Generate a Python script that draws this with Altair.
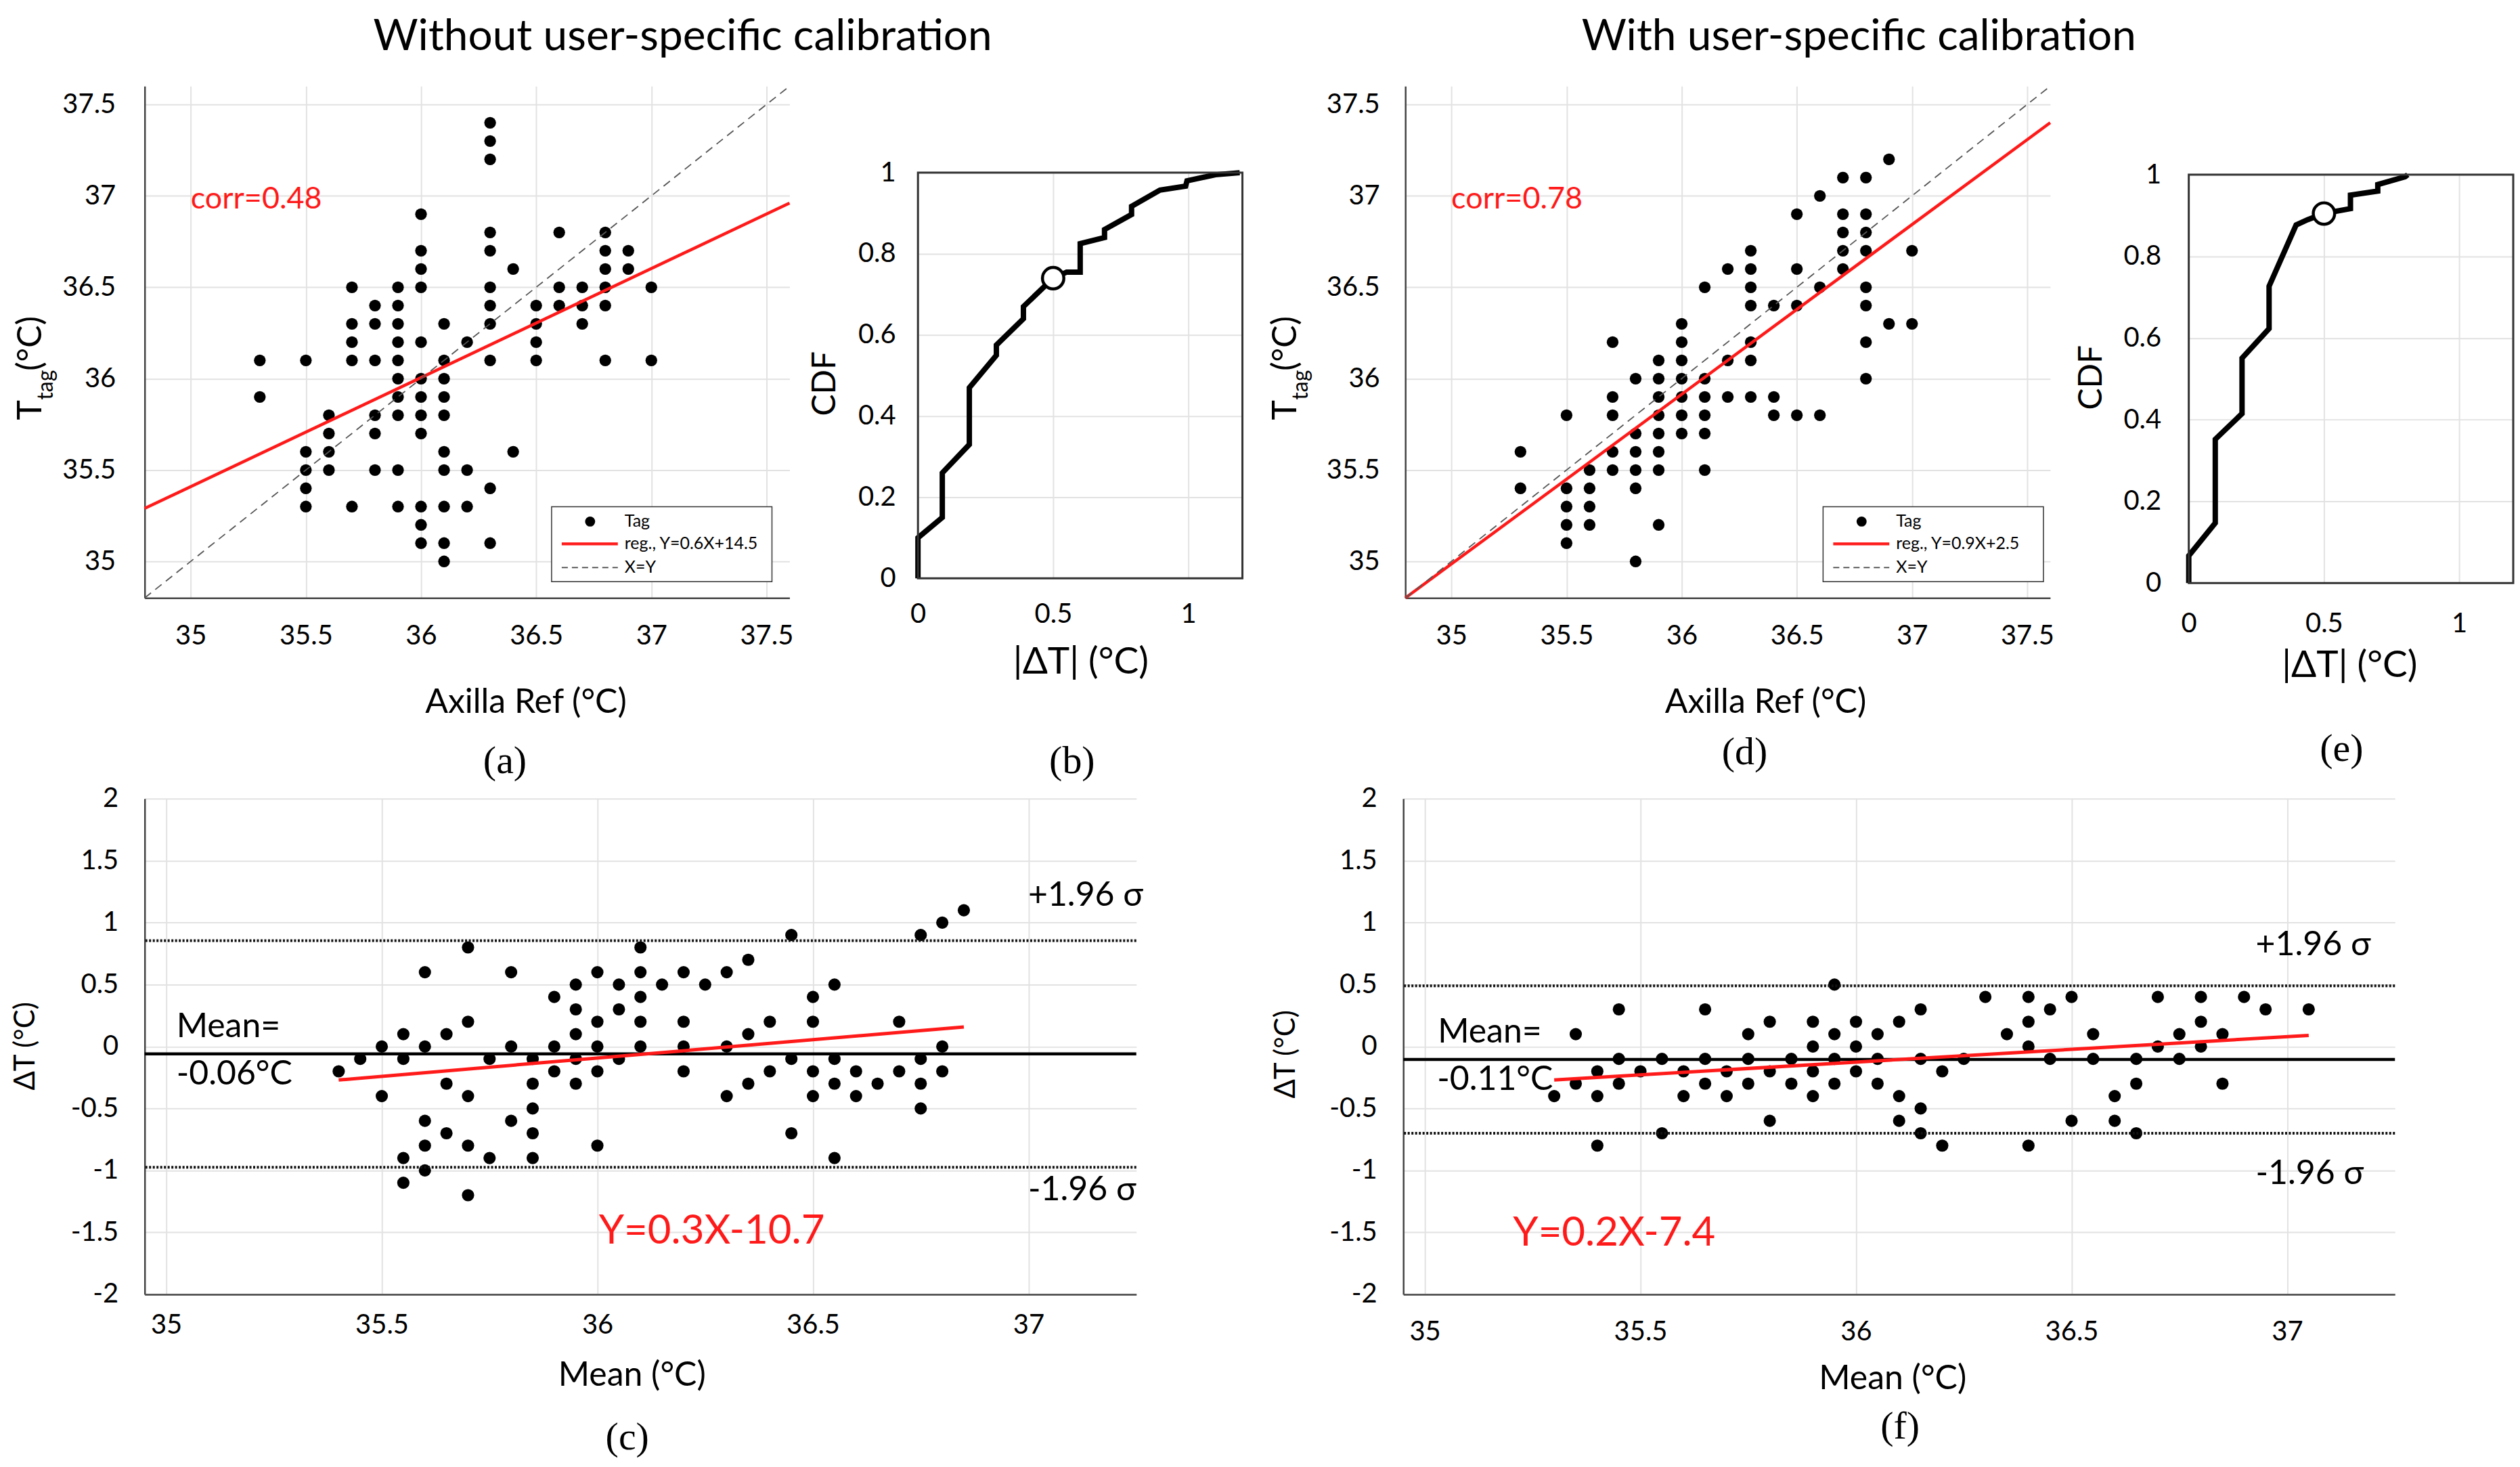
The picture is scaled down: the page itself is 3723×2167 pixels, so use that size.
import altair as alt
import pandas as pd

SANS = "Lato"
SERIF = "Liberation Serif"
TICK_FS = 40
GRID = "#e2e2e2"
AXC = "#444444"
RED = "#ff1a1a"

# ---------------- data ----------------
# (a) without calibration: axilla reference value (column) -> tag readings
A_REF = [35.3, 35.5, 35.6, 35.7, 35.8, 35.9, 36.0, 36.1, 36.2, 36.3, 36.4, 36.5, 36.6, 36.7, 36.8, 36.9, 37.0]
A_TAG = [
    [36.1, 35.9],
    [36.1, 35.6, 35.5, 35.4, 35.3],
    [35.8, 35.7, 35.6, 35.5],
    [36.5, 36.3, 36.2, 36.1, 35.3],
    [36.4, 36.3, 36.1, 35.8, 35.7, 35.5],
    [36.5, 36.4, 36.3, 36.2, 36.1, 36.0, 35.9, 35.8, 35.5, 35.3],
    [36.9, 36.7, 36.6, 36.5, 36.2, 36.0, 35.9, 35.8, 35.7, 35.3, 35.2, 35.1],
    [36.3, 36.1, 36.0, 35.9, 35.8, 35.6, 35.5, 35.3, 35.1, 35.0],
    [36.2, 35.5, 35.3],
    [37.4, 37.3, 37.2, 36.8, 36.7, 36.5, 36.4, 36.3, 36.1, 35.4, 35.1],
    [36.6, 35.6],
    [36.4, 36.3, 36.2, 36.1],
    [36.8, 36.5, 36.4],
    [36.5, 36.4, 36.3],
    [36.8, 36.7, 36.6, 36.5, 36.4, 36.1],
    [36.7, 36.6],
    [36.5, 36.1],
]
A_REG_X = [34.8, 37.6]
A_REG_Y = [35.29, 36.96]

# (d) with calibration
D_REF = [35.3, 35.5, 35.6, 35.7, 35.8, 35.9, 36.0, 36.1, 36.2, 36.3, 36.4, 36.5, 36.6, 36.7, 36.8, 36.9, 37.0]
D_TAG = [
    [35.6, 35.4],
    [35.8, 35.4, 35.3, 35.2, 35.1],
    [35.5, 35.4, 35.3, 35.2],
    [36.2, 35.9, 35.8, 35.6, 35.5],
    [36.0, 35.7, 35.6, 35.5, 35.4, 35.0],
    [36.1, 36.0, 35.9, 35.8, 35.7, 35.6, 35.5, 35.2],
    [36.3, 36.2, 36.1, 36.0, 35.9, 35.8, 35.7],
    [36.5, 36.0, 35.9, 35.8, 35.7, 35.5],
    [36.6, 36.1, 35.9],
    [36.7, 36.6, 36.5, 36.4, 36.2, 36.1, 35.9],
    [36.4, 35.9, 35.8],
    [36.9, 36.6, 36.4, 35.8],
    [37.0, 36.5, 35.8],
    [37.1, 36.9, 36.8, 36.7, 36.6],
    [37.1, 36.9, 36.8, 36.7, 36.5, 36.4, 36.2, 36.0],
    [37.2, 36.3],
    [36.7, 36.3],
]
D_REG_X = [34.8, 37.6]
D_REG_Y = [34.8, 37.40]

IDENT = [34.8, 37.6]

# (b), (e) CDF of |dT|
B_DT = [0, 0, 0.09, 0.09, 0.19, 0.19, 0.29, 0.29, 0.39, 0.39, 0.50, 0.55, 0.60, 0.60,
        0.69, 0.69, 0.79, 0.79, 0.895, 0.99, 0.995, 1.10, 1.19]
B_CDF = [0, 0.10, 0.15, 0.26, 0.33, 0.47, 0.55, 0.575, 0.64, 0.67, 0.74, 0.755, 0.755, 0.825,
         0.84, 0.86, 0.897, 0.917, 0.957, 0.967, 0.98, 0.995, 1.0]
B_MARK = [0.5, 0.74]

E_DT = [0, 0, 0.098, 0.098, 0.197, 0.197, 0.297, 0.297, 0.397, 0.44, 0.50, 0.598, 0.598,
        0.699, 0.699, 0.80, 0.81]
E_CDF = [0, 0.067, 0.147, 0.352, 0.415, 0.551, 0.623, 0.727, 0.877, 0.89, 0.905, 0.917, 0.95,
         0.96, 0.976, 0.995, 1.0]
E_MARK = [0.5, 0.905]

# (c), (f) Bland-Altman: mean value (column) -> differences
C_MEAN = [35.40, 35.45, 35.50, 35.55, 35.60, 35.65, 35.70, 35.75, 35.80, 35.85, 35.90, 35.95,
          36.00, 36.05, 36.10, 36.15, 36.20, 36.25, 36.30, 36.35, 36.40, 36.45, 36.50, 36.55,
          36.60, 36.65, 36.70, 36.75, 36.80, 36.85]
C_DIFF = [
    [-0.2], [-0.1], [0, -0.4], [0.1, -0.1, -0.9, -1.1], [0.6, 0, -0.6, -0.8, -1.0],
    [0.1, -0.3, -0.7], [0.8, 0.2, -0.4, -0.8, -1.2], [-0.1, -0.9], [0.6, 0, -0.6],
    [-0.1, -0.3, -0.5, -0.7, -0.9], [0.4, 0, -0.2], [0.5, 0.3, 0.1, -0.1, -0.3],
    [0.6, 0.2, 0, -0.2, -0.8], [0.5, 0.3, -0.1], [0.8, 0.6, 0.4, 0.2, 0], [0.5],
    [0.6, 0.2, 0, -0.2], [0.5], [0.6, 0, -0.4], [0.7, 0.1, -0.3], [0.2, -0.2],
    [0.9, -0.1, -0.7], [0.4, 0.2, -0.2, -0.4], [0.5, -0.1, -0.3, -0.9], [-0.2, -0.4],
    [-0.3], [0.2, -0.2], [0.9, -0.1, -0.3, -0.5], [1.0, 0, -0.2], [1.1],
]
C_LINES = [-0.06, 0.855, -0.975]   # mean, +1.96 sigma, -1.96 sigma
C_REG_X = [35.40, 36.85]
C_REG_Y = [-0.27, 0.158]

F_MEAN = [35.30, 35.35, 35.40, 35.45, 35.50, 35.55, 35.60, 35.65, 35.70, 35.75, 35.80, 35.85,
          35.90, 35.95, 36.00, 36.05, 36.10, 36.15, 36.20, 36.25, 36.30, 36.35, 36.40, 36.45,
          36.50, 36.55, 36.60, 36.65, 36.70, 36.75, 36.80, 36.85, 36.90, 36.95, 37.05]
F_DIFF = [
    [-0.4], [0.1, -0.3], [-0.2, -0.4, -0.8], [0.3, -0.1, -0.3], [-0.2], [-0.1, -0.7],
    [-0.2, -0.4], [0.3, -0.1, -0.3], [-0.2, -0.4], [0.1, -0.1, -0.3], [0.2, -0.2, -0.6],
    [-0.1, -0.3], [0.2, 0, -0.2, -0.4], [0.5, 0.1, -0.1, -0.3], [0.2, 0, -0.2],
    [0.1, -0.1, -0.3], [0.2, -0.4, -0.6], [0.3, -0.1, -0.5, -0.7], [-0.2, -0.8], [-0.1],
    [0.4], [0.1], [0.4, 0.2, 0, -0.8], [0.3, -0.1], [0.4, -0.6], [0.1, -0.1], [-0.4, -0.6],
    [-0.1, -0.3, -0.7], [0.4, 0], [0.1, -0.1], [0.4, 0.2, 0], [0.1, -0.3], [0.4], [0.3], [0.3],
]
F_LINES = [-0.105, 0.49, -0.70]
F_REG_X = [35.30, 37.05]
F_REG_Y = [-0.27, 0.09]


# ---------------- helpers ----------------
def one():
    return pd.DataFrame({"k": [0]})


def txt(s, x, y, size, color="black", angle=0, align="center", baseline="middle", font=SANS):
    kw = dict(text=s, fontSize=size, font=font, color=color, align=align, baseline=baseline)
    if angle:
        kw["angle"] = angle
    return alt.Chart(one()).mark_text(**kw).encode(x=alt.value(x), y=alt.value(y))


def hrule(x1, x2, y, color, width, dash=None):
    kw = dict(color=color, strokeWidth=width)
    if dash:
        kw["strokeDash"] = dash
    return alt.Chart(one()).mark_rule(**kw).encode(x=alt.value(x1), x2=alt.value(x2), y=alt.value(y))


def box(x1, x2, y1, y2, stroke, width, fill="transparent"):
    return alt.Chart(one()).mark_rect(fill=fill, stroke=stroke, strokeWidth=width).encode(
        x=alt.value(x1), x2=alt.value(x2), y=alt.value(y1), y2=alt.value(y2))


def ax(values, pad, domain=True):
    return alt.Axis(values=values, format="~g", labelFont=SANS, labelFontSize=TICK_FS,
                    labelColor="black", labelPadding=pad, ticks=False, domain=domain,
                    domainColor=AXC, domainWidth=2.5, grid=True, gridColor=GRID, gridWidth=2,
                    title=None, labelFlush=False, labelOverlap=False,
                    labelExpr="replace(datum.label, '\u2212', '-')")


def flat(cols, lists):
    return pd.DataFrame([(c, v) for c, vs in zip(cols, lists) for v in vs], columns=["x", "y"])


def xy(xv, yv):
    return pd.DataFrame({"x": xv, "y": yv})


def ytag_label(xb, ybottom):
    return [
        txt("T", xb, ybottom, 50, angle=270, align="left", baseline="alphabetic"),
        txt("tag", xb + 17, ybottom - 30, 32, angle=270, align="left", baseline="alphabetic"),
        txt("(°C)", xb, ybottom - 73, 50, angle=270, align="left", baseline="alphabetic"),
    ]


def scatter_panel(ref, tags, reg_x, reg_y, corr, reg_label, leg_dx, title, title_x,
                  xt_x, lab, lab_xy, ylab_pad, ylab_xb, frame=False):
    W, H = 954, 757
    vals = [35, 35.5, 36, 36.5, 37, 37.5]
    X = alt.X("x:Q", scale=alt.Scale(domain=[34.8, 37.6], nice=False, zero=False), axis=ax(vals, 36))
    Y = alt.Y("y:Q", scale=alt.Scale(domain=[34.8, 37.6], nice=False, zero=False), axis=ax(vals, ylab_pad))
    pts = alt.Chart(flat(ref, tags)).mark_circle(size=300, color="black", opacity=1).encode(x=X, y=Y)
    ident = alt.Chart(xy(IDENT, IDENT)).mark_line(
        color="#555555", strokeWidth=1.8, strokeDash=[12, 8]).encode(x=X, y=Y)
    reg = alt.Chart(xy(reg_x, reg_y)).mark_line(color=RED, strokeWidth=4.5).encode(x=X, y=Y)
    layers = []
    if frame:
        layers.append(alt.Chart(one()).mark_rect(fill="white", fillOpacity=0, strokeOpacity=0).encode(
            x=alt.value(-205), x2=alt.value(3504), y=alt.value(-117), y2=alt.value(2030)))
    layers += [pts, reg, ident]
    # legend
    layers += [
        box(leg_dx, leg_dx + 326, 622, 733, "#333333", 1.5, fill="white"),
        alt.Chart(one()).mark_circle(size=220, color="black", opacity=1).encode(
            x=alt.value(leg_dx + 57), y=alt.value(644)),
        hrule(leg_dx + 15, leg_dx + 98, 677, RED, 4.5),
        hrule(leg_dx + 15, leg_dx + 98, 712, "#444444", 1.6, dash=[9, 6]),
        txt("Tag", leg_dx + 108, 644, 25, align="left"),
        txt(reg_label, leg_dx + 108, 677, 25, align="left"),
        txt("X=Y", leg_dx + 108, 712, 25, align="left"),
    ]
    layers += [
        txt(corr, 68, 167, 45, color=RED, align="left"),
        txt(title, title_x, -53, 64, baseline="alphabetic"),
        txt("Axilla Ref (°C)", xt_x, 912, 50),
        txt(lab, lab_xy[0], lab_xy[1], 58, font=SERIF),
    ]
    layers += ytag_label(ylab_xb, 494)
    return alt.layer(*layers).properties(width=W, height=H)


def cdf_panel(dt, cdf, mark, H, xpad, ypad, cdf_xy, xt_xy, lab, lab_xy):
    W = 480
    X = alt.X("x:Q", scale=alt.Scale(domain=[0, 1.2], nice=False, zero=False),
              axis=ax([0, 0.5, 1], xpad, domain=False))
    Y = alt.Y("y:Q", scale=alt.Scale(domain=[0, 1], nice=False, zero=False),
              axis=ax([0, 0.2, 0.4, 0.6, 0.8, 1], ypad, domain=False))
    df = xy(dt, cdf)
    df["i"] = list(range(len(dt)))
    line = alt.Chart(df).mark_line(color="black", strokeWidth=8).encode(x=X, y=Y, order="i:Q")
    circ = alt.Chart(xy([mark[0]], [mark[1]])).mark_point(
        shape="circle", filled=True, fill="white", stroke="black", strokeWidth=4.5,
        size=1000, opacity=1).encode(x=X, y=Y)
    layers = [
        line, circ,
        box(0, W, 0, H, "#333333", 3),
        txt("CDF", cdf_xy[0], cdf_xy[1], 48, angle=270, baseline="alphabetic"),
        txt("|ΔT| (°C)", xt_xy[0], xt_xy[1], 55),
        txt(lab, lab_xy[0], lab_xy[1], 58, font=SERIF),
    ]
    return alt.layer(*layers).properties(width=W, height=H)


def ba_panel(means, diffs, lines, reg_x, reg_y, mean_txt, eq, P, xpad):
    W, H = 1467, 733
    X = alt.X("x:Q", scale=alt.Scale(domain=[34.95, 37.25], nice=False, zero=False),
              axis=ax([35, 35.5, 36, 36.5, 37], xpad))
    Y = alt.Y("y:Q", scale=alt.Scale(domain=[-2, 2], nice=False, zero=False),
              axis=ax([-2, -1.5, -1, -0.5, 0, 0.5, 1, 1.5, 2], 39))
    pts = alt.Chart(flat(means, diffs)).mark_circle(size=330, color="black", opacity=1).encode(x=X, y=Y)
    mean_rule = alt.Chart(pd.DataFrame({"y": [lines[0]]})).mark_rule(
        color="black", strokeWidth=4.5).encode(y=Y)
    lim_rule = alt.Chart(pd.DataFrame({"y": lines[1:]})).mark_rule(
        color="#111111", strokeWidth=4, strokeDash=[3, 2.5]).encode(y=Y)
    reg = alt.Chart(xy(reg_x, reg_y)).mark_line(color=RED, strokeWidth=5).encode(x=X, y=Y)
    layers = [
        pts, mean_rule, lim_rule, reg,
        txt("Mean=", P["mean"][0], P["mean"][1], 50, align="left"),
        txt(mean_txt, P["mval"][0], P["mval"][1], 50, align="left"),
        txt("+1.96 σ", P["up"][0], P["up"][1], 50, align="left"),
        txt("-1.96 σ", P["lo"][0], P["lo"][1], 50, align="left"),
        txt(eq, P["eq"][0], P["eq"][1], 60, color=RED),
        txt("ΔT (°C)", P["yl"][0], P["yl"][1], 42, angle=270, baseline="alphabetic"),
        txt("Mean (°C)", P["xl"][0], P["xl"][1], 50),
        txt(P["lab"], P["labxy"][0], P["labxy"][1], 58, font=SERIF),
    ]
    return alt.layer(*layers).properties(width=W, height=H)


def spacer():
    return alt.Chart(one()).mark_point(opacity=0).encode(
        x=alt.value(0), y=alt.value(0)).properties(width=1, height=1)


# ---------------- panels ----------------
pa = scatter_panel(A_REF, A_TAG, A_REG_X, A_REG_Y, "corr=0.48", "reg., Y=0.6X+14.5", 602,
                   "Without user-specific calibration", 796, 564, "(a)", (533, 999), 43, -153,
                   frame=True)
pdd = scatter_panel(D_REF, D_TAG, D_REG_X, D_REG_Y, "corr=0.78", "reg., Y=0.9X+2.5", 618,
                    "With user-specific calibration", 671, 533, "(d)", (502, 986), 38, -161)
pb = cdf_panel(B_DT, B_CDF, B_MARK, 600, 33, 33, (-122, 312), (241, 724), "(b)", (228, 871))
pe = cdf_panel(E_DT, E_CDF, E_MARK, 604, 40, 41, (-129, 300), (238, 726), "(e)", (226, 850))

pc = ba_panel(C_MEAN, C_DIFF, C_LINES, C_REG_X, C_REG_Y, "-0.06°C", "Y=0.3X-10.7",
              {"mean": (47, 338), "mval": (47, 408), "up": (1307, 143), "lo": (1307, 579),
               "eq": (839, 640), "yl": (-163, 366), "xl": (721, 853), "lab": "(c)",
               "labxy": (714, 945)}, 26)
pf = ba_panel(F_MEAN, F_DIFF, F_LINES, F_REG_X, F_REG_Y, "-0.11°C", "Y=0.2X-7.4",
              {"mean": (51, 346), "mval": (50, 416), "up": (1261, 216), "lo": (1261, 555),
               "eq": (312, 643), "yl": (-160, 378), "xl": (724, 858), "lab": "(f)",
               "labxy": (735, 929)}, 36)

# Nested concat groups count as zero-sized under flush bounds, so spacing = offset.
bcol = alt.vconcat(spacer(), pb, spacing=127, bounds="flush")
ecol = alt.vconcat(spacer(), pe, spacing=130, bounds="flush")
right = alt.hconcat(pdd, ecol, spacing=205, bounds="flush")
mid = alt.hconcat(bcol, right, spacing=721, bounds="flush")
row1 = alt.hconcat(pa, mid, spacing=190, bounds="flush")
row2 = alt.hconcat(pc, pf, spacing=395, bounds="flush")

chart = alt.vconcat(row1, row2, spacing=1054, bounds="flush").properties(
    padding={"left": 0, "top": 0, "right": 0, "bottom": 0}
).configure_view(stroke="transparent")

chart.save("out.html", embed_options={"renderer": "svg", "actions": False})
